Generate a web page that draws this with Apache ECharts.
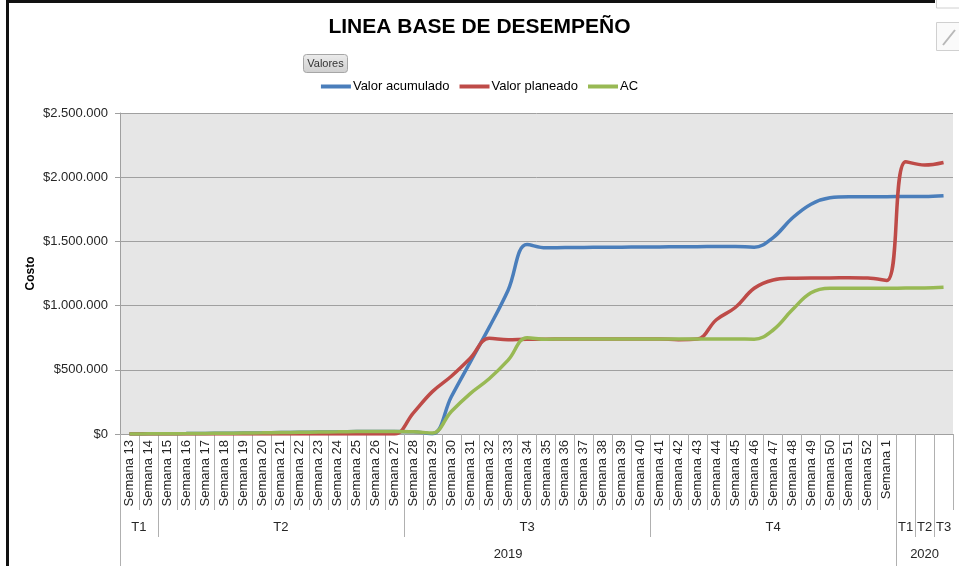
<!DOCTYPE html>
<html>
<head>
<meta charset="utf-8">
<script src="https://cdn.jsdelivr.net/npm/echarts@6/dist/echarts.min.js"></script>
<style>
  html, body { margin: 0; padding: 0; background: #fff; }
  #main { width: 959px; height: 566px; }
</style>
</head>
<body>
<div id="main"></div>
<script>
// semanas (las 3 ultimas columnas de 2020 no tienen semana)
let semanas = ['Semana 13', 'Semana 14', 'Semana 15', 'Semana 16', 'Semana 17', 'Semana 18', 'Semana 19',
  'Semana 20', 'Semana 21', 'Semana 22', 'Semana 23', 'Semana 24', 'Semana 25', 'Semana 26', 'Semana 27',
  'Semana 28', 'Semana 29', 'Semana 30', 'Semana 31', 'Semana 32', 'Semana 33', 'Semana 34', 'Semana 35',
  'Semana 36', 'Semana 37', 'Semana 38', 'Semana 39', 'Semana 40', 'Semana 41', 'Semana 42', 'Semana 43',
  'Semana 44', 'Semana 45', 'Semana 46', 'Semana 47', 'Semana 48', 'Semana 49', 'Semana 50', 'Semana 51',
  'Semana 52', 'Semana 1', '', '', ''];

// trimestres y años (cuantas columnas cubre cada uno)
let trimestres = ['T1', 'T2', 'T3', 'T4', 'T1', 'T2', 'T3'];
let trimestresCols = [2, 13, 13, 13, 1, 1, 1];
let anios = ['2019', '2020'];
let aniosCols = [41, 3];

let valorAcumulado = [0, 1000, 2000, 3000, 4500, 6000, 7500, 9000, 11000, 13000, 15000, 17000, 19000, 20000, 20000,
  18000, 2000,
  290000, 560000, 830000, 1120000, 1475000, 1450000,
  1452000, 1453000, 1454000, 1455000, 1456000, 1457000, 1458000, 1459000, 1460000, 1460000,
  1455000, 1530000, 1680000, 1790000, 1840000, 1848000, 1848000,
  1848000,
  1850000, 1850000, 1856000];

let valorPlaneado = [0, 0, 0, 0, 0, 0, 0, 0, 0, 0, 0, 0, 0, 0, 0,
  165000, 330000, 450000, 590000, 745000, 735000, 738000, 738000,
  740000, 740000, 740000, 740000, 740000, 740000,
  735000, 740000,
  890000, 985000, 1135000, 1200000, 1213000, 1215000, 1215000, 1217000, 1215000,
  1195000,
  2120000, 2095000, 2115000];

let ac = [0, 1000, 2000, 3000, 4500, 6000, 7500, 9000, 11000, 13000, 15000, 17000, 19000, 20000, 20000,
  18000, 8000,
  175000, 315000, 430000, 575000, 750000, 738000,
  740000, 740000, 740000, 740000, 740000, 740000, 740000, 740000, 740000, 740000,
  738000, 810000, 965000, 1100000, 1135000, 1135000, 1135000,
  1135000,
  1137000, 1138000, 1143000];

let fuente = 'Liberation Sans';

function moneda(v) {
  return '$' + String(v).replace(/\B(?=(\d{3})+(?!\d))/g, '.');
}

let myChart = echarts.init(document.getElementById('main'));

myChart.setOption({
  animation: false,
  backgroundColor: '#ffffff',
  title: {
    text: 'LINEA BASE DE DESEMPEÑO',
    left: 'center',
    top: 12,
    textStyle: {
      fontFamily: fuente,
      fontSize: 21,
      fontWeight: 'bold',
      color: '#000'
    }
  },
  legend: {
    top: 75,
    left: 'center',
    icon: 'rect',
    itemWidth: 30,
    itemHeight: 4,
    itemGap: 10,
    textStyle: { fontFamily: fuente, fontSize: 13, color: '#000', padding: [0, 0, 0, -3] },
    data: ['Valor acumulado', 'Valor planeado', 'AC']
  },
  grid: {
    left: 120,
    right: 6,
    top: 113,
    bottom: 132,
    show: true,
    backgroundColor: '#e6e6e6',
    borderWidth: 0
  },
  xAxis: {
    type: 'category',
    data: semanas,
    boundaryGap: true,
    axisLine: { lineStyle: { color: '#a0a0a0' } },
    axisTick: { show: true, interval: 0, length: 76, lineStyle: { color: '#b0b0b0' } },
    axisLabel: {
      interval: 0,
      rotate: 90,
      margin: 6,
      fontFamily: fuente,
      fontSize: 13,
      color: '#262626'
    }
  },
  yAxis: {
    type: 'value',
    min: 0,
    max: 2500000,
    interval: 500000,
    name: 'Costo',
    nameLocation: 'middle',
    nameGap: 83,
    nameMoveOverlap: false,
    nameTextStyle: { fontFamily: fuente, fontSize: 12, fontWeight: 'bold', color: '#000' },
    axisLine: { show: true, lineStyle: { color: '#a0a0a0' } },
    axisTick: { show: true, length: 5, lineStyle: { color: '#a0a0a0' } },
    splitLine: { lineStyle: { color: '#a0a0a0' } },
    axisLabel: {
      margin: 12,
      fontFamily: fuente,
      fontSize: 13,
      color: '#262626',
      formatter: moneda
    }
  },
  series: [
    {
      name: 'Valor acumulado',
      type: 'line',
      data: valorAcumulado,
      smooth: 0.4,
      symbol: 'none',
      color: '#4a7ebb',
      lineStyle: { width: 3.5 }
    },
    {
      name: 'Valor planeado',
      type: 'line',
      data: valorPlaneado,
      smooth: 0.4,
      symbol: 'none',
      color: '#be4b48',
      lineStyle: { width: 3.5 }
    },
    {
      name: 'AC',
      type: 'line',
      data: ac,
      smooth: 0.4,
      symbol: 'none',
      color: '#98b954',
      lineStyle: { width: 3.5 }
    }
  ]
});

// filas de trimestre y año debajo del eje, con la escala del propio eje
let c0 = myChart.convertToPixel({ xAxisIndex: 0 }, 0);
let c1 = myChart.convertToPixel({ xAxisIndex: 0 }, 1);
let banda = c1 - c0;
let y0 = myChart.convertToPixel({ yAxisIndex: 0 }, 0);
function borde(i) {
  return c0 - banda / 2 + i * banda;
}

let graficos = [];
let gris = '#b0b0b0';

let inicio = 0;
for (let i = 0; i < trimestres.length; i++) {
  let fin = inicio + trimestresCols[i];
  graficos.push({
    type: 'text',
    style: {
      text: trimestres[i], x: (borde(inicio) + borde(fin)) / 2, y: y0 + 93,
      align: 'center', verticalAlign: 'middle',
      font: '13px ' + fuente, fill: '#262626'
    }
  });
  if (fin < semanas.length) {
    graficos.push({
      type: 'line', silent: true,
      shape: { x1: Math.round(borde(fin)) + 0.5, y1: y0, x2: Math.round(borde(fin)) + 0.5, y2: y0 + 103 },
      style: { stroke: gris, lineWidth: 1 }
    });
  }
  inicio = fin;
}

inicio = 0;
for (let i = 0; i < anios.length; i++) {
  let fin = inicio + aniosCols[i];
  graficos.push({
    type: 'text',
    style: {
      text: anios[i], x: (borde(inicio) + borde(fin)) / 2, y: y0 + 120,
      align: 'center', verticalAlign: 'middle',
      font: '13px ' + fuente, fill: '#262626'
    }
  });
  let xs = [borde(inicio)];
  if (fin < semanas.length) xs.push(borde(fin));
  for (let x of xs) {
    graficos.push({
      type: 'line', silent: true,
      shape: { x1: Math.round(x) + 0.5, y1: y0, x2: Math.round(x) + 0.5, y2: 566 },
      style: { stroke: gris, lineWidth: 1 }
    });
  }
  inicio = fin;
}

// boton "Valores"
graficos.push({
  type: 'group', left: 303, top: 54,
  children: [
    {
      type: 'rect', shape: { x: 0, y: 0, width: 44, height: 18, r: 3 },
      style: {
        fill: new echarts.graphic.LinearGradient(0, 0, 0, 1, [
          { offset: 0, color: '#ececec' }, { offset: 1, color: '#cfcfcf' }
        ]),
        stroke: '#a6a6a6'
      }
    },
    {
      type: 'text',
      style: { text: 'Valores', x: 22, y: 9, align: 'center', verticalAlign: 'middle', font: '11px ' + fuente, fill: '#333' }
    }
  ]
});

// marco del grafico y botones de la esquina
graficos.push({ type: 'line', silent: true, shape: { x1: 7.5, y1: 0, x2: 7.5, y2: 566 }, style: { stroke: '#111', lineWidth: 3 } });
graficos.push({ type: 'line', silent: true, shape: { x1: 6, y1: 1.5, x2: 935, y2: 1.5 }, style: { stroke: '#111', lineWidth: 3 } });
graficos.push({ type: 'rect', silent: true, shape: { x: 936.5, y: -2, width: 24, height: 10 }, style: { fill: '#fff', stroke: '#d0d0d0' } });
graficos.push({ type: 'rect', silent: true, shape: { x: 936.5, y: 22.5, width: 24, height: 28 }, style: { fill: '#fafafa', stroke: '#d0d0d0' } });
graficos.push({ type: 'line', silent: true, shape: { x1: 943, y1: 45, x2: 955, y2: 30 }, style: { stroke: '#b8b8b8', lineWidth: 2 } });

myChart.setOption({ graphic: graficos });
</script>
</body>
</html>
